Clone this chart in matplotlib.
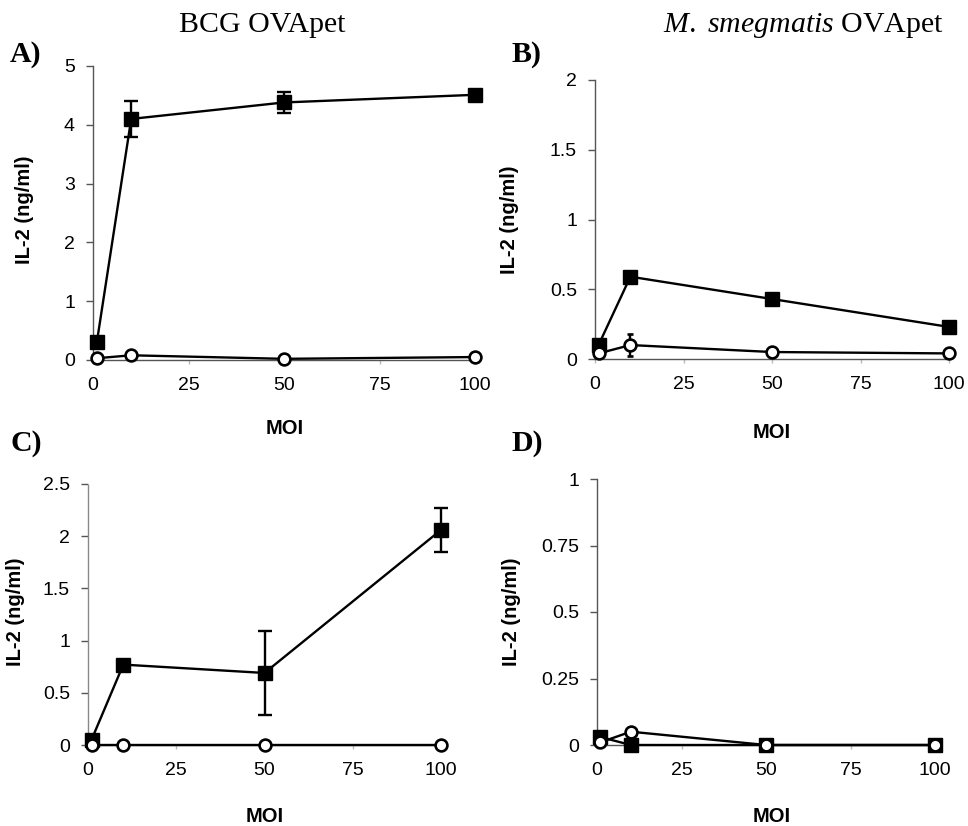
import matplotlib
matplotlib.use("Agg")
import matplotlib.pyplot as plt

plt.rcParams["mathtext.fontset"] = "custom"
plt.rcParams["mathtext.rm"] = "Liberation Serif"
plt.rcParams["mathtext.it"] = "Liberation Serif:italic"
plt.rcParams["mathtext.bf"] = "Liberation Serif:bold"

W, H = 968, 826

moi = [1, 10, 50, 100]

# Panel A: BCG OVApet
a_sq = [0.30, 4.10, 4.38, 4.51]
a_sq_err = [0.0, 0.30, 0.18, 0.04]
a_ci = [0.03, 0.08, 0.02, 0.05]
a_ci_err = [0.0, 0.0, 0.0, 0.0]

# Panel B: M. smegmatis OVApet
b_sq = [0.10, 0.59, 0.43, 0.23]
b_sq_err = [0.0, 0.0, 0.0, 0.0]
b_ci = [0.04, 0.10, 0.05, 0.04]
b_ci_err = [0.0, 0.08, 0.0, 0.0]

# Panel C
c_sq = [0.05, 0.77, 0.69, 2.06]
c_sq_err = [0.0, 0.0, 0.40, 0.21]
c_ci = [0.0, 0.0, 0.0, 0.0]
c_ci_err = [0.0, 0.0, 0.0, 0.0]

# Panel D
d_sq = [0.03, 0.0, 0.0, 0.0]
d_sq_err = [0.0, 0.0, 0.0, 0.0]
d_ci = [0.01, 0.05, 0.0, 0.0]
d_ci_err = [0.0, 0.0, 0.0, 0.0]

x_ticks = [0, 25, 50, 75, 100]
a_yticks = [0, 1, 2, 3, 4, 5]
a_ylabels = ["0", "1", "2", "3", "4", "5"]
b_yticks = [0, 0.5, 1, 1.5, 2]
b_ylabels = ["0", "0.5", "1", "1.5", "2"]
c_yticks = [0, 0.5, 1, 1.5, 2, 2.5]
c_ylabels = ["0", "0.5", "1", "1.5", "2", "2.5"]
d_yticks = [0, 0.25, 0.5, 0.75, 1]
d_ylabels = ["0", "0.25", "0.5", "0.75", "1"]

fig = plt.figure(figsize=(W / 100, H / 100), dpi=100)

def px_rect(l, r, t, b):
    return [l / W, 1 - b / H, (r - l) / W, (b - t) / H]

def fx(x):
    return x / W

def fy(y):
    return 1 - y / H

SANS = "Liberation Sans"
SERIF = "Liberation Serif"
AXCOL = "#555555"

panels = [
    dict(rect=px_rect(93, 475, 66, 360), sq=a_sq, sqe=a_sq_err, ci=a_ci, cie=a_ci_err,
         yt=a_yticks, yl=a_ylabels, ylim=5, ylab=(34, 210), xlab=(285, 428),
         tag="A)", tagpos=(10, 55), dotted=False),
    dict(rect=px_rect(595, 949, 80, 359), sq=b_sq, sqe=b_sq_err, ci=b_ci, cie=b_ci_err,
         yt=b_yticks, yl=b_ylabels, ylim=2, ylab=(519, 220), xlab=(772, 432),
         tag="B)", tagpos=(511, 55), dotted=False),
    dict(rect=px_rect(88, 441, 484, 745), sq=c_sq, sqe=c_sq_err, ci=c_ci, cie=c_ci_err,
         yt=c_yticks, yl=c_ylabels, ylim=2.5, ylab=(25, 612), xlab=(265, 816),
         tag="C)", tagpos=(10, 443), dotted=True),
    dict(rect=px_rect(597, 935, 479, 745), sq=d_sq, sqe=d_sq_err, ci=d_ci, cie=d_ci_err,
         yt=d_yticks, yl=d_ylabels, ylim=1, ylab=(521, 612), xlab=(772, 816),
         tag="D)", tagpos=(512, 443), dotted=False),
]

for p in panels:
    ax = fig.add_axes(p["rect"])
    ax.set_xlim(0, 100)
    ax.set_ylim(0, p["ylim"])
    for s in ["top", "right"]:
        ax.spines[s].set_visible(False)
    ax.spines["bottom"].set_color(AXCOL)
    ax.spines["bottom"].set_linewidth(1.0)
    ax.spines["left"].set_color("#888888" if p["dotted"] else AXCOL)
    ax.spines["left"].set_linewidth(1.0)
    if p["dotted"]:
        ax.spines["left"].set_linestyle((0, (1, 1)))
    ax.set_xticks(x_ticks)
    ax.set_xticklabels([str(t) for t in x_ticks], fontsize=14, family=SANS)
    ax.set_yticks(p["yt"])
    ax.set_yticklabels(p["yl"], fontsize=14, family=SANS)
    ax.tick_params(axis="y", direction="out", length=5, width=1, color=AXCOL, pad=8)
    ax.tick_params(axis="x", direction="out", length=3, width=1, color="#bbbbbb", pad=9)

    ax.errorbar(moi, p["sq"], yerr=p["sqe"], color="black", lw=1.7, marker="s",
                markersize=10, markerfacecolor="black", markeredgecolor="black",
                ecolor="black", elinewidth=1.7, capsize=5, capthick=1.7,
                clip_on=False, zorder=3)
    ax.errorbar(moi, p["ci"], yerr=p["cie"], color="black", lw=1.7, marker="o",
                markersize=8.5, markerfacecolor="white", markeredgecolor="black",
                markeredgewidth=1.9, ecolor="black", elinewidth=1.7, capsize=2,
                capthick=1.7, clip_on=False, zorder=4)

    ax.set_ylabel("IL-2 (ng/ml)", fontsize=14.5, fontweight="bold", family=SANS)
    ax.yaxis.set_label_coords(fx(p["ylab"][0]), fy(p["ylab"][1]), transform=fig.transFigure)
    ax.set_xlabel("MOI", fontsize=14.5, fontweight="bold", family=SANS)
    ax.xaxis.set_label_coords(fx(p["xlab"][0]), fy(p["xlab"][1]), transform=fig.transFigure)
    ax.xaxis.label.set_verticalalignment("center")

    fig.text(fx(p["tagpos"][0]), fy(p["tagpos"][1]), p["tag"], fontsize=21.5,
             fontweight="bold", family=SERIF, ha="left", va="center")

fig.text(fx(262), fy(25), "BCG OVApet", fontsize=21.5, family=SERIF,
         ha="center", va="center")
fig.text(fx(803), fy(25), r"$\mathit{M.\ smegmatis}$ OVApet", fontsize=21.5,
         family=SERIF, ha="center", va="center")

fig.savefig("out.png", dpi=100)
